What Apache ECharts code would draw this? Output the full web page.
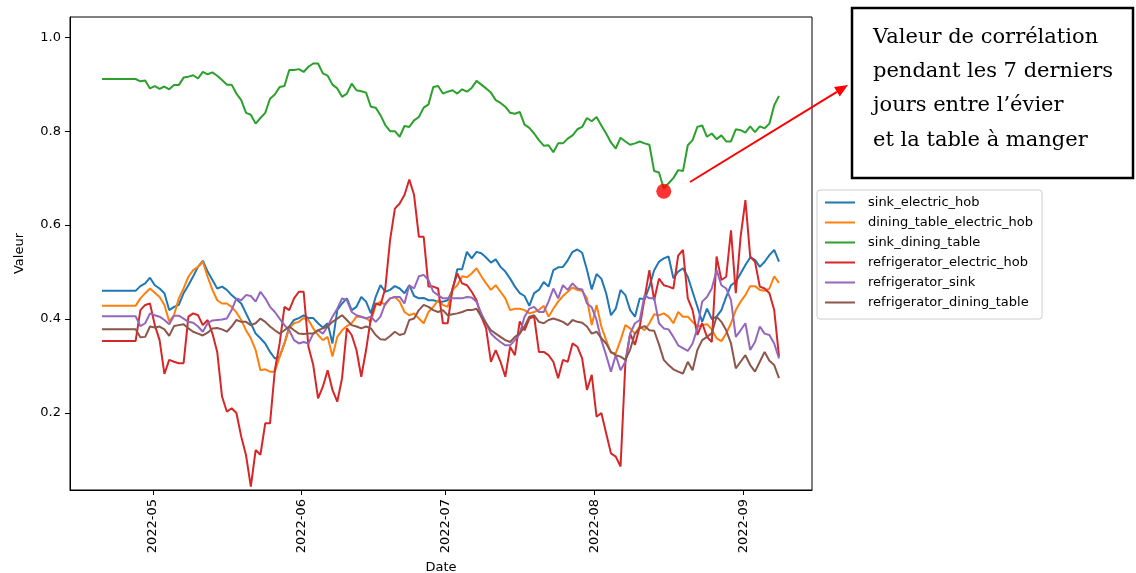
<!DOCTYPE html>
<html><head><meta charset="utf-8">
<script src="https://cdn.jsdelivr.net/npm/echarts@6/dist/echarts.min.js"></script>
<style>html,body{margin:0;padding:0;background:#fff}#c{width:1136px;height:573px}</style>
</head><body><div id="c"></div>
<script>
// first timestamp of the daily series (year, monthIndex, day, hour)
const startDate = [2022, 3, 20, 10];

const sinkElectricHob = [0.460,0.460,0.460,0.460,0.460,0.460,0.460,0.460,
0.470,0.476,0.488,0.472,0.465,0.455,0.419,0.426,0.430,0.455,
0.472,0.491,0.511,0.524,0.501,0.483,0.465,0.469,0.462,0.451,
0.442,0.433,0.412,0.391,0.369,0.359,0.348,0.330,0.316,0.320,
0.348,0.384,0.398,0.402,0.408,0.402,0.402,0.391,0.382,0.391,
0.348,0.419,0.433,0.444,0.419,0.426,0.447,0.437,0.412,0.447,
0.472,0.458,0.462,0.470,0.465,0.455,0.472,0.449,0.444,0.445,
0.440,0.440,0.437,0.437,0.440,0.462,0.506,0.506,0.543,0.529,
0.543,0.540,0.531,0.520,0.527,0.511,0.501,0.486,0.469,0.455,
0.449,0.428,0.455,0.462,0.479,0.469,0.504,0.510,0.511,0.525,
0.543,0.548,0.541,0.505,0.463,0.496,0.486,0.455,0.408,0.422,
0.462,0.451,0.419,0.405,0.444,0.442,0.469,0.504,0.522,0.529,
0.533,0.487,0.501,0.508,0.490,0.458,0.426,0.394,0.422,0.400,
0.405,0.419,0.447,0.472,0.479,0.497,0.515,0.531,0.526,0.511,
0.522,0.536,0.547,0.522];

const diningTableElectricHob = [0.428,0.428,0.428,0.428,0.428,0.428,0.428,0.428,
0.444,0.455,0.465,0.456,0.447,0.430,0.395,0.408,0.444,0.465,
0.490,0.504,0.511,0.522,0.490,0.462,0.440,0.433,0.433,0.426,
0.414,0.398,0.376,0.359,0.334,0.291,0.293,0.288,0.288,0.320,
0.348,0.380,0.391,0.394,0.402,0.398,0.380,0.366,0.355,0.362,
0.320,0.362,0.376,0.385,0.391,0.405,0.405,0.402,0.394,0.430,
0.437,0.430,0.444,0.447,0.437,0.415,0.408,0.412,0.401,0.391,
0.415,0.426,0.440,0.430,0.426,0.462,0.472,0.491,0.489,0.497,
0.508,0.491,0.476,0.462,0.472,0.458,0.444,0.419,0.422,0.422,
0.419,0.412,0.415,0.419,0.428,0.405,0.422,0.437,0.449,0.458,
0.467,0.462,0.460,0.444,0.387,0.430,0.384,0.355,0.328,0.327,
0.355,0.387,0.380,0.369,0.384,0.376,0.391,0.410,0.408,0.412,
0.405,0.391,0.415,0.405,0.405,0.394,0.384,0.387,0.389,0.378,
0.359,0.353,0.369,0.391,0.419,0.437,0.451,0.470,0.470,0.462,
0.460,0.465,0.491,0.477];

const sinkDiningTable = [0.911,0.911,0.911,0.911,0.911,0.911,0.911,0.911,
0.906,0.908,0.891,0.896,0.890,0.895,0.889,0.898,0.898,0.914,
0.916,0.919,0.912,0.926,0.921,0.925,0.918,0.909,0.899,0.899,
0.880,0.866,0.839,0.835,0.816,0.828,0.839,0.869,0.878,0.894,
0.896,0.930,0.930,0.932,0.926,0.937,0.944,0.944,0.923,0.918,
0.899,0.891,0.873,0.880,0.901,0.887,0.885,0.882,0.852,0.850,
0.834,0.813,0.800,0.800,0.788,0.811,0.809,0.823,0.830,0.850,
0.857,0.894,0.896,0.880,0.884,0.887,0.880,0.889,0.884,0.892,
0.907,0.899,0.891,0.882,0.866,0.860,0.852,0.839,0.837,0.841,
0.814,0.807,0.795,0.781,0.769,0.770,0.755,0.774,0.774,0.784,
0.791,0.804,0.809,0.828,0.821,0.830,0.812,0.795,0.776,0.763,
0.786,0.778,0.771,0.774,0.778,0.774,0.771,0.715,0.712,0.678,
0.689,0.700,0.717,0.715,0.770,0.781,0.809,0.812,0.788,0.795,
0.783,0.791,0.778,0.778,0.804,0.802,0.797,0.810,0.798,0.810,
0.806,0.816,0.855,0.875];

const refrigeratorElectricHob = [0.353,0.353,0.353,0.353,0.353,0.353,0.353,0.353,
0.419,0.430,0.433,0.387,0.355,0.283,0.313,0.309,0.306,0.306,
0.405,0.412,0.408,0.387,0.398,0.369,0.330,0.235,0.203,0.210,
0.200,0.150,0.110,0.043,0.121,0.111,0.178,0.178,0.291,0.348,
0.426,0.419,0.444,0.458,0.458,0.341,0.302,0.231,0.256,0.291,
0.249,0.224,0.274,0.380,0.366,0.334,0.277,0.334,0.402,0.433,
0.430,0.465,0.568,0.635,0.646,0.664,0.697,0.664,0.575,0.575,
0.469,0.469,0.465,0.391,0.391,0.465,0.497,0.476,0.472,0.458,
0.440,0.405,0.380,0.309,0.334,0.309,0.277,0.341,0.323,0.395,
0.376,0.401,0.405,0.330,0.330,0.323,0.309,0.274,0.313,0.309,
0.348,0.341,0.316,0.249,0.281,0.192,0.200,0.157,0.114,0.107,
0.086,0.306,0.369,0.345,0.384,0.444,0.504,0.440,0.486,0.472,
0.469,0.465,0.535,0.547,0.444,0.419,0.366,0.391,0.362,0.351,
0.533,0.483,0.490,0.589,0.455,0.575,0.653,0.533,0.522,0.469,
0.465,0.455,0.419,0.320];

const refrigeratorSink = [0.406,0.406,0.406,0.406,0.406,0.406,0.406,0.406,
0.385,0.391,0.412,0.408,0.405,0.398,0.389,0.407,0.407,0.401,
0.394,0.392,0.384,0.373,0.391,0.397,0.398,0.399,0.401,0.419,
0.444,0.440,0.451,0.449,0.437,0.458,0.444,0.426,0.415,0.401,
0.387,0.376,0.355,0.348,0.351,0.348,0.369,0.376,0.369,0.384,
0.405,0.422,0.444,0.440,0.415,0.408,0.405,0.401,0.405,0.394,
0.405,0.433,0.444,0.447,0.447,0.433,0.472,0.465,0.491,0.494,
0.483,0.458,0.451,0.444,0.444,0.444,0.444,0.444,0.447,0.446,
0.437,0.412,0.391,0.369,0.359,0.351,0.344,0.344,0.355,0.369,
0.405,0.422,0.426,0.415,0.415,0.437,0.465,0.444,0.472,0.462,
0.476,0.465,0.463,0.433,0.425,0.398,0.355,0.323,0.288,0.323,
0.291,0.309,0.369,0.391,0.398,0.451,0.444,0.445,0.391,0.380,
0.378,0.362,0.344,0.338,0.332,0.348,0.380,0.437,0.447,0.465,
0.504,0.472,0.465,0.440,0.362,0.376,0.391,0.334,0.351,0.384,
0.369,0.366,0.348,0.316];

const refrigeratorDiningTable = [0.378,0.378,0.378,0.378,0.378,0.378,0.378,0.378,
0.361,0.362,0.384,0.382,0.384,0.378,0.364,0.385,0.387,0.389,
0.380,0.373,0.369,0.365,0.371,0.380,0.381,0.378,0.373,0.384,
0.398,0.394,0.394,0.387,0.391,0.401,0.394,0.384,0.376,0.369,
0.376,0.384,0.376,0.369,0.368,0.369,0.369,0.376,0.380,0.384,
0.394,0.401,0.408,0.398,0.387,0.384,0.380,0.384,0.380,0.366,
0.357,0.356,0.364,0.373,0.366,0.369,0.398,0.401,0.419,0.430,
0.426,0.419,0.415,0.419,0.408,0.410,0.412,0.415,0.419,0.419,
0.422,0.405,0.391,0.376,0.369,0.362,0.355,0.351,0.362,0.369,
0.384,0.405,0.408,0.394,0.391,0.398,0.401,0.398,0.394,0.387,
0.398,0.394,0.392,0.384,0.369,0.373,0.359,0.348,0.330,0.323,
0.320,0.313,0.335,0.369,0.380,0.385,0.376,0.375,0.346,0.313,
0.302,0.293,0.288,0.284,0.309,0.291,0.334,0.355,0.362,0.370,
0.405,0.394,0.376,0.348,0.295,0.309,0.323,0.302,0.288,0.309,
0.330,0.311,0.302,0.274];

const seriesNames = ['sink_electric_hob','dining_table_electric_hob','sink_dining_table',
  'refrigerator_electric_hob','refrigerator_sink','refrigerator_dining_table'];
const seriesValues = [sinkElectricHob, diningTableElectricHob, sinkDiningTable,
  refrigeratorElectricHob, refrigeratorSink, refrigeratorDiningTable];
const seriesColors = ['#1f77b4','#ff7f0e','#2ca02c','#d62728','#9467bd','#8c564b'];

const xTickLabels = ['2022-05','2022-06','2022-07','2022-08','2022-09'];
const yTickValues = [0.2, 0.4, 0.6, 0.8, 1.0];

// annotated minimum (index into the daily series, value)
const annotationIndex = 117;
const annotationValue = 0.672;
const annotationLines = ['Valeur de corrélation', 'pendant les 7 derniers', 'jours entre l\u2019évier', 'et la table à manger'];

const DAY = 86400000;
const n = sinkElectricHob.length;
const dates = Array.from({length: n}, (_, i) => new Date(startDate[0], startDate[1], startDate[2] + i, startDate[3]).getTime());
const xMin = dates[0] - 6.66 * DAY;
const xMax = dates[n - 1] + 6.87 * DAY;
const xTicks = xTickLabels.map(s => { const p = s.split('-').map(Number); return new Date(p[0], p[1] - 1, 1).getTime(); });
const pad2 = v => (v < 10 ? '0' : '') + v;

const FONT = 'DejaVu Sans';
const chart = echarts.init(document.getElementById('c'), null, {renderer: 'canvas'});

const series = seriesNames.map((name, k) => ({
  name, type: 'line', showSymbol: false, symbol: 'none',
  data: dates.map((d, i) => [d, seriesValues[k][i]]),
  lineStyle: {width: 2, color: seriesColors[k]}, itemStyle: {color: seriesColors[k]},
  emphasis: {disabled: true}, z: 2 + k
}));
series.push({
  name: 'annotation', type: 'scatter', symbolSize: 15,
  data: [[dates[annotationIndex], annotationValue]],
  itemStyle: {color: '#ff0000'}, z: 20, silent: true
});

// arrow geometry (annotation graphics)
const ax1 = 690, ay1 = 182, ax2 = 848, ay2 = 85;
const dl = Math.hypot(ax2 - ax1, ay2 - ay1), ux = (ax2 - ax1) / dl, uy = (ay2 - ay1) / dl;
const hb = [ax2 - 13 * ux, ay2 - 13 * uy];
const head = [[ax2, ay2], [hb[0] - 5.5 * uy, hb[1] + 5.5 * ux], [hb[0] + 5.5 * uy, hb[1] - 5.5 * ux]];

const graphics = [
  {type: 'rect', shape: {x: 852, y: 8, width: 281, height: 170}, style: {fill: '#fff', stroke: '#000', lineWidth: 2.5}, z: 100},
  {type: 'line', shape: {x1: ax1, y1: ay1, x2: hb[0], y2: hb[1]}, style: {stroke: '#ff0000', lineWidth: 2}, z: 100},
  {type: 'polygon', shape: {points: head}, style: {fill: '#ff0000'}, z: 100}
];
const baselines = [38, 72, 106, 141];
annotationLines.forEach((t, i) => graphics.push({
  type: 'text', x: 873, y: baselines[i], z: 101,
  style: {text: t, font: '21px "DejaVu Serif"', fill: '#000', verticalAlign: 'middle', align: 'left'}
}));

chart.setOption({
  animation: false,
  backgroundColor: '#fff',
  grid: {left: 70, top: 17, width: 742, height: 473, show: true, borderColor: '#000', borderWidth: 1,
    backgroundColor: 'transparent', containLabel: false, outerBoundsMode: 'none'},
  legend: {
    orient: 'vertical', left: 817, top: 190, data: seriesNames,
    icon: 'rect', itemWidth: 30, itemHeight: 2, itemGap: 7,
    textStyle: {fontSize: 13, color: '#000', fontFamily: FONT, padding: [0, 0, 0, 8]},
    borderColor: '#cccccc', borderWidth: 1, borderRadius: 3, padding: [6, 9, 10, 8],
    backgroundColor: '#fff', selectedMode: false
  },
  xAxis: {
    type: 'value', min: xMin, max: xMax, scale: true,
    name: 'Date', nameLocation: 'middle', nameGap: 67,
    nameTextStyle: {fontSize: 13, color: '#000', fontFamily: FONT},
    axisLine: {show: true, onZero: false, lineStyle: {color: '#000', width: 1}},
    axisTick: {show: true, customValues: xTicks, length: 5, lineStyle: {color: '#000'}},
    axisLabel: {customValues: xTicks, rotate: 90, fontSize: 13, color: '#000', fontFamily: FONT, margin: 9,
      formatter: v => { const d = new Date(v); return d.getFullYear() + '-' + pad2(d.getMonth() + 1); }},
    splitLine: {show: false}
  },
  yAxis: {
    type: 'value', min: 0.036, max: 1.043,
    name: 'Valeur', nameLocation: 'middle', nameGap: 44, nameRotate: 90,
    nameTextStyle: {fontSize: 13, color: '#000', fontFamily: FONT},
    axisLine: {show: true, onZero: false, lineStyle: {color: '#000', width: 1}},
    axisTick: {show: true, customValues: yTickValues, length: 5, lineStyle: {color: '#000'}},
    axisLabel: {customValues: yTickValues, fontSize: 13, color: '#000', fontFamily: FONT, margin: 9,
      formatter: v => Number(v).toFixed(1)},
    splitLine: {show: false}
  },
  series,
  graphic: graphics
});
</script></body></html>
